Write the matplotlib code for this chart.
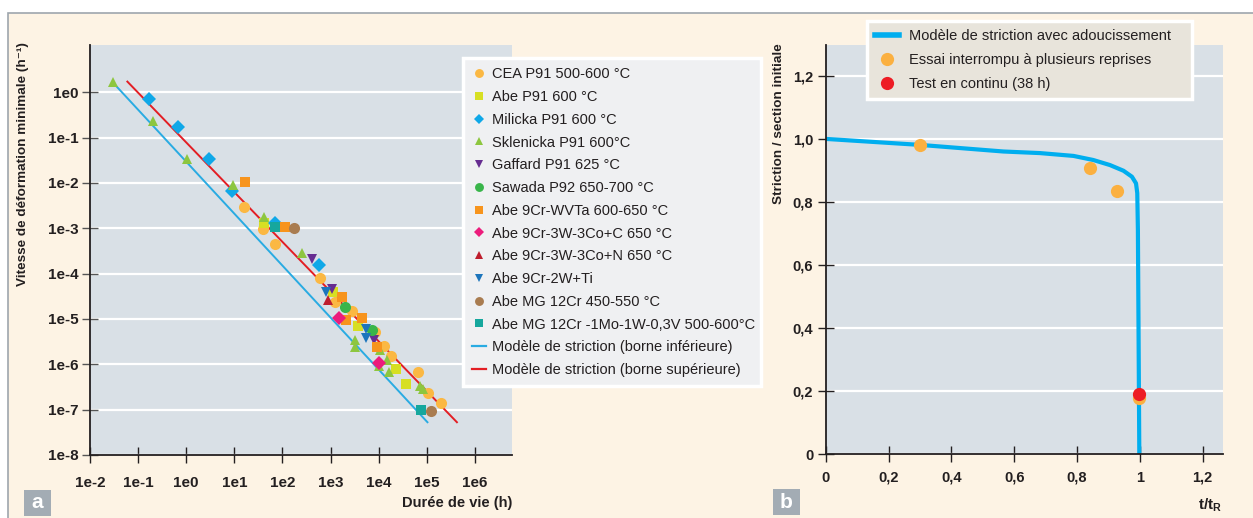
import matplotlib
matplotlib.use("Agg")
import matplotlib.pyplot as plt
from matplotlib.lines import Line2D
from matplotlib.patches import Rectangle

plt.rcParams['font.family'] = ['Liberation Sans', 'DejaVu Sans']
plt.rcParams['mathtext.fontset'] = 'custom'
plt.rcParams['mathtext.rm'] = 'Liberation Sans'
plt.rcParams['mathtext.bf'] = 'Liberation Sans:bold'

# ---- panel a : minimum creep rate vs. lifetime ----
cea_t = [15.6, 40, 69, 598, 1230, 2740, 8530, 13160, 17800, 67100, 106000, 196000]
cea_v = [3.0e-3, 9.8e-4, 4.6e-4, 8.0e-5, 2.4e-5, 1.52e-5, 5.25e-6, 2.49e-6, 1.5e-6, 6.8e-7, 2.3e-7, 1.38e-7]
abe_p91_t = [42, 1100, 3650, 22900, 37000]
abe_p91_v = [1.32e-3, 3.9e-5, 7.0e-6, 7.9e-7, 3.7e-7]
milicka_t = [0.172, 0.67, 2.97, 8.95, 69, 570]
milicka_v = [0.70, 0.17, 0.034, 6.7e-3, 1.3e-3, 1.57e-4]
sklenicka_t = [0.0297, 0.208, 1.06, 9.2, 41.6, 249, 3160, 3160, 10640, 15100, 10140, 16400, 71500, 83900]
sklenicka_v = [1.71, 0.233, 0.034, 9.1e-3, 1.8e-3, 2.84e-4, 3.5e-6, 2.4e-6, 2.1e-6, 1.27e-6, 9.4e-7, 6.9e-7, 3.3e-7, 2.9e-7]
gaffard_t = [416, 1050, 7980]
gaffard_v = [2.1e-4, 4.65e-5, 3.5e-6]
sawada_t = [1990, 7140]
sawada_v = [1.87e-5, 5.7e-6]
wvta_t = [16.4, 112, 1720, 2120, 4490, 9080]
wvta_v = [1.04e-2, 1.06e-3, 3.05e-5, 9.7e-6, 1.05e-5, 2.4e-6]
co_c_t = [1517, 10350]
co_c_v = [1.07e-5, 1.07e-6]
co_n_t = [879]
co_n_v = [2.66e-5]
ti_t = [798, 5550, 5360]
ti_v = [3.9e-5, 6.1e-6, 3.8e-6]
mg12_t = [175, 123000]
mg12_v = [1.03e-3, 9.4e-8]
mg12mo_t = [71, 75000]
mg12mo_v = [1.06e-3, 1.0e-7]

low_t = [0.0332, 103000]
low_v = [1.45, 5.28e-8]
up_t = [0.0598, 422000]
up_v = [1.71, 5.28e-8]

x_ticks_a = [1e-2, 1e-1, 1e0, 1e1, 1e2, 1e3, 1e4, 1e5, 1e6]
x_labels_a = ['1e-2', '1e-1', '1e0', '1e1', '1e2', '1e3', '1e4', '1e5', '1e6']
y_ticks_a = [1e0, 1e-1, 1e-2, 1e-3, 1e-4, 1e-5, 1e-6, 1e-7, 1e-8]
y_labels_a = ['1e0', '1e-1', '1e-2', '1e-3', '1e-4', '1e-5', '1e-6', '1e-7', '1e-8']

# ---- panel b : necking ratio vs. t/tR ----
model_t = [0.0, 0.30, 0.566, 0.682, 0.789, 0.852, 0.905, 0.948, 0.975, 0.988, 0.992, 0.994, 0.996, 0.9985]
model_s = [1.0, 0.981, 0.960, 0.955, 0.946, 0.933, 0.917, 0.899, 0.880, 0.859, 0.828, 0.711, 0.40, 0.0]
interrupted_t = [0.30, 0.842, 0.929, 0.999]
interrupted_s = [0.98, 0.909, 0.835, 0.177]
continuous_t = [0.998]
continuous_s = [0.191]

x_ticks_b = [0, 0.2, 0.4, 0.6, 0.8, 1.0, 1.2]
x_labels_b = ['0', '0,2', '0,4', '0,6', '0,8', '1', '1,2']
y_ticks_b = [0, 0.2, 0.4, 0.6, 0.8, 1.0, 1.2]
y_labels_b = ['0', '0,2', '0,4', '0,6', '0,8', '1,0', '1,2']

CREAM = '#fdf3e4'
PLOT_BG = '#d9e0e6'
DARK = '#231f20'
W, H = 1253, 518

fig = plt.figure(figsize=(12.53, 5.18), dpi=100, facecolor='white')
fig.patches.append(Rectangle((8 / W, -0.1), 1.2, 1.1 - 13 / H, transform=fig.transFigure,
                             facecolor=CREAM, edgecolor='#9ea6ad', linewidth=1.2, zorder=-5))

ax_a = fig.add_axes([90 / W, 1 - 455 / H, (512 - 90) / W, (455 - 45) / H])
ax_b = fig.add_axes([825.7 / W, 1 - 454 / H, (1222.7 - 825.7) / W, (454 - 45) / H])

for ax in (ax_a, ax_b):
    ax.set_facecolor(PLOT_BG)
    for s in ('top', 'right'):
        ax.spines[s].set_visible(False)
    for s in ('left', 'bottom'):
        ax.spines[s].set_color(DARK)
        ax.spines[s].set_linewidth(1.3)
    ax.yaxis.grid(True, color='white', linewidth=1.6)
    ax.set_axisbelow(True)

# panel a
ax_a.plot(low_t, low_v, color='#29abe2', linewidth=1.4, zorder=2)
ax_a.plot(up_t, up_v, color='#e31e24', linewidth=1.4, zorder=2)

series = [
    (cea_t, cea_v, 'o', '#fbb843', 8, 'CEA P91 500-600 °C'),
    (abe_p91_t, abe_p91_v, 's', '#d7df23', 6.8, 'Abe P91 600 °C'),
    (milicka_t, milicka_v, 'D', '#0fa8e8', 7, 'Milicka P91 600 °C'),
    (sklenicka_t, sklenicka_v, '^', '#8dc63f', 7.5, 'Sklenicka P91 600°C'),
    (gaffard_t, gaffard_v, 'v', '#662d91', 7.5, 'Gaffard P91 625 °C'),
    (sawada_t, sawada_v, 'o', '#39b54a', 8, 'Sawada P92 650-700 °C'),
    (wvta_t, wvta_v, 's', '#f7941d', 6.8, 'Abe 9Cr-WVTa 600-650 °C'),
    (co_c_t, co_c_v, 'D', '#ec1c7c', 7, 'Abe 9Cr-3W-3Co+C 650 °C'),
    (co_n_t, co_n_v, '^', '#be1e2d', 7.5, 'Abe 9Cr-3W-3Co+N 650 °C'),
    (ti_t, ti_v, 'v', '#1c75bc', 7.5, 'Abe 9Cr-2W+Ti'),
    (mg12_t, mg12_v, 'o', '#a97c50', 8, 'Abe MG 12Cr 450-550 °C'),
    (mg12mo_t, mg12mo_v, 's', '#16a79d', 6.8, 'Abe MG 12Cr -1Mo-1W-0,3V 500-600°C'),
]
handles = []
for xs, ys, mk, col, ms, lab in series:
    ax_a.plot(xs, ys, linestyle='none', marker=mk, color=col, markersize=ms,
              markeredgewidth=0, zorder=3)
    handles.append(Line2D([], [], linestyle='none', marker=mk, color=col,
                          markersize=ms * 0.8, markeredgewidth=0, label=lab))
handles.append(Line2D([], [], color='#29abe2', linewidth=1.6, label='Modèle de striction (borne inférieure)'))
handles.append(Line2D([], [], color='#e31e24', linewidth=1.6, label='Modèle de striction (borne supérieure)'))

ax_a.set_xscale('log')
ax_a.set_yscale('log')
ax_a.set_xlim(1e-2, 10 ** 6.77)
ax_a.set_ylim(1e-8, 10 ** 1.04)
ax_a.set_xticks(x_ticks_a)
ax_a.set_xticklabels(x_labels_a)
ax_a.set_yticks(y_ticks_a)
ax_a.set_yticklabels(y_labels_a)
ax_a.minorticks_off()
ax_a.tick_params(axis='x', direction='inout', length=12, width=1, color=DARK, pad=9, labelsize=11, labelcolor=DARK)
ax_a.tick_params(axis='y', direction='inout', length=12, width=1, color='#555555', pad=2.5, labelsize=11, labelcolor=DARK)

leg_a = ax_a.legend(handles=handles, loc='upper left',
                    bbox_to_anchor=(462.7 / W, 1 - 386.7 / H, (761 - 462.7) / W, (386.7 - 58.3) / H),
                    mode='expand', bbox_transform=fig.transFigure, fontsize=10.5, frameon=True,
                    fancybox=False, facecolor='#eff0f2', edgecolor='white', framealpha=1,
                    borderpad=0.62, labelspacing=0.6, handlelength=1.0, handletextpad=0.4,
                    borderaxespad=0)
leg_a.get_frame().set_linewidth(2.5)
for t in leg_a.get_texts():
    t.set_color(DARK)

# panel b
ax_b.plot(model_t, model_s, color='#00aeef', linewidth=3, solid_capstyle='butt',
          solid_joinstyle='round', zorder=2)
ax_b.plot(interrupted_t, interrupted_s, linestyle='none', marker='o', color='#fbb040',
          markersize=9.5, markeredgewidth=0, zorder=3)
ax_b.plot(continuous_t, continuous_s, linestyle='none', marker='o', color='#ed1c24',
          markersize=9.5, markeredgewidth=0, zorder=4)
ax_b.set_xlim(0, 1.264)
ax_b.set_ylim(0, 1.298)
ax_b.set_xticks(x_ticks_b)
ax_b.set_xticklabels(x_labels_b)
ax_b.set_yticks(y_ticks_b)
ax_b.set_yticklabels(y_labels_b)
ax_b.tick_params(axis='both', direction='inout', length=12, width=1, color=DARK, labelsize=10.5, labelcolor=DARK)
ax_b.tick_params(axis='x', pad=6)
ax_b.tick_params(axis='y', pad=3)

handles_b = [
    Line2D([], [], color='#00aeef', linewidth=4, label='Modèle de striction avec adoucissement'),
    Line2D([], [], linestyle='none', marker='o', color='#fbb040', markersize=9.5, markeredgewidth=0,
           label='Essai interrompu à plusieurs reprises'),
    Line2D([], [], linestyle='none', marker='o', color='#ed1c24', markersize=9.5, markeredgewidth=0,
           label='Test en continu (38 h)'),
]
leg_b = ax_b.legend(handles=handles_b, loc='upper left',
                    bbox_to_anchor=(867.3 / W, 1 - 100 / H, (1191.7 - 867.3) / W, (100 - 20.7) / H),
                    mode='expand', bbox_transform=fig.transFigure, fontsize=10.5, frameon=True,
                    fancybox=False, facecolor='#e8e4db', edgecolor='white', framealpha=1,
                    borderpad=0.56, labelspacing=0.7, handlelength=1.6, handletextpad=0.68,
                    borderaxespad=0)
leg_b.get_frame().set_linewidth(2.5)
for t in leg_b.get_texts():
    t.set_color(DARK)

for ax in (ax_a, ax_b):
    for lbl in ax.get_xticklabels() + ax.get_yticklabels():
        lbl.set_fontweight('bold')

# axis titles
fig.text(23 / W, 1 - 42 / H, 'Vitesse de déformation minimale (h⁻¹)', rotation=90,
         ha='center', va='top', fontsize=9.7, fontweight='bold', color=DARK)
fig.text(512 / W, 1 - 503 / H, 'Durée de vie (h)', ha='right', va='center',
         fontsize=10.5, fontweight='bold', color=DARK)
fig.text(779 / W, 1 - 43 / H, 'Striction / section initiale', rotation=90,
         ha='center', va='top', fontsize=9.7, fontweight='bold', color=DARK)
fig.text(1222 / W, 1 - 510 / H, r'$\mathbf{t/t_R}$', ha='right', va='baseline',
         fontsize=11, color=DARK)

# panel tags
for x0, y0, tag in ((24, 490, 'a'), (773, 489, 'b')):
    fig.patches.append(Rectangle((x0 / W, 1 - (y0 + 26) / H), 27 / W, 26 / H,
                                 transform=fig.transFigure, facecolor='#a3acb4',
                                 edgecolor='none', zorder=1))
    fig.text((x0 + 13.5) / W, 1 - (y0 + 13) / H, tag, ha='center', va='center',
             fontsize=15, fontweight='bold', color='white')

fig.savefig('out.png', dpi=100, facecolor=fig.get_facecolor())
